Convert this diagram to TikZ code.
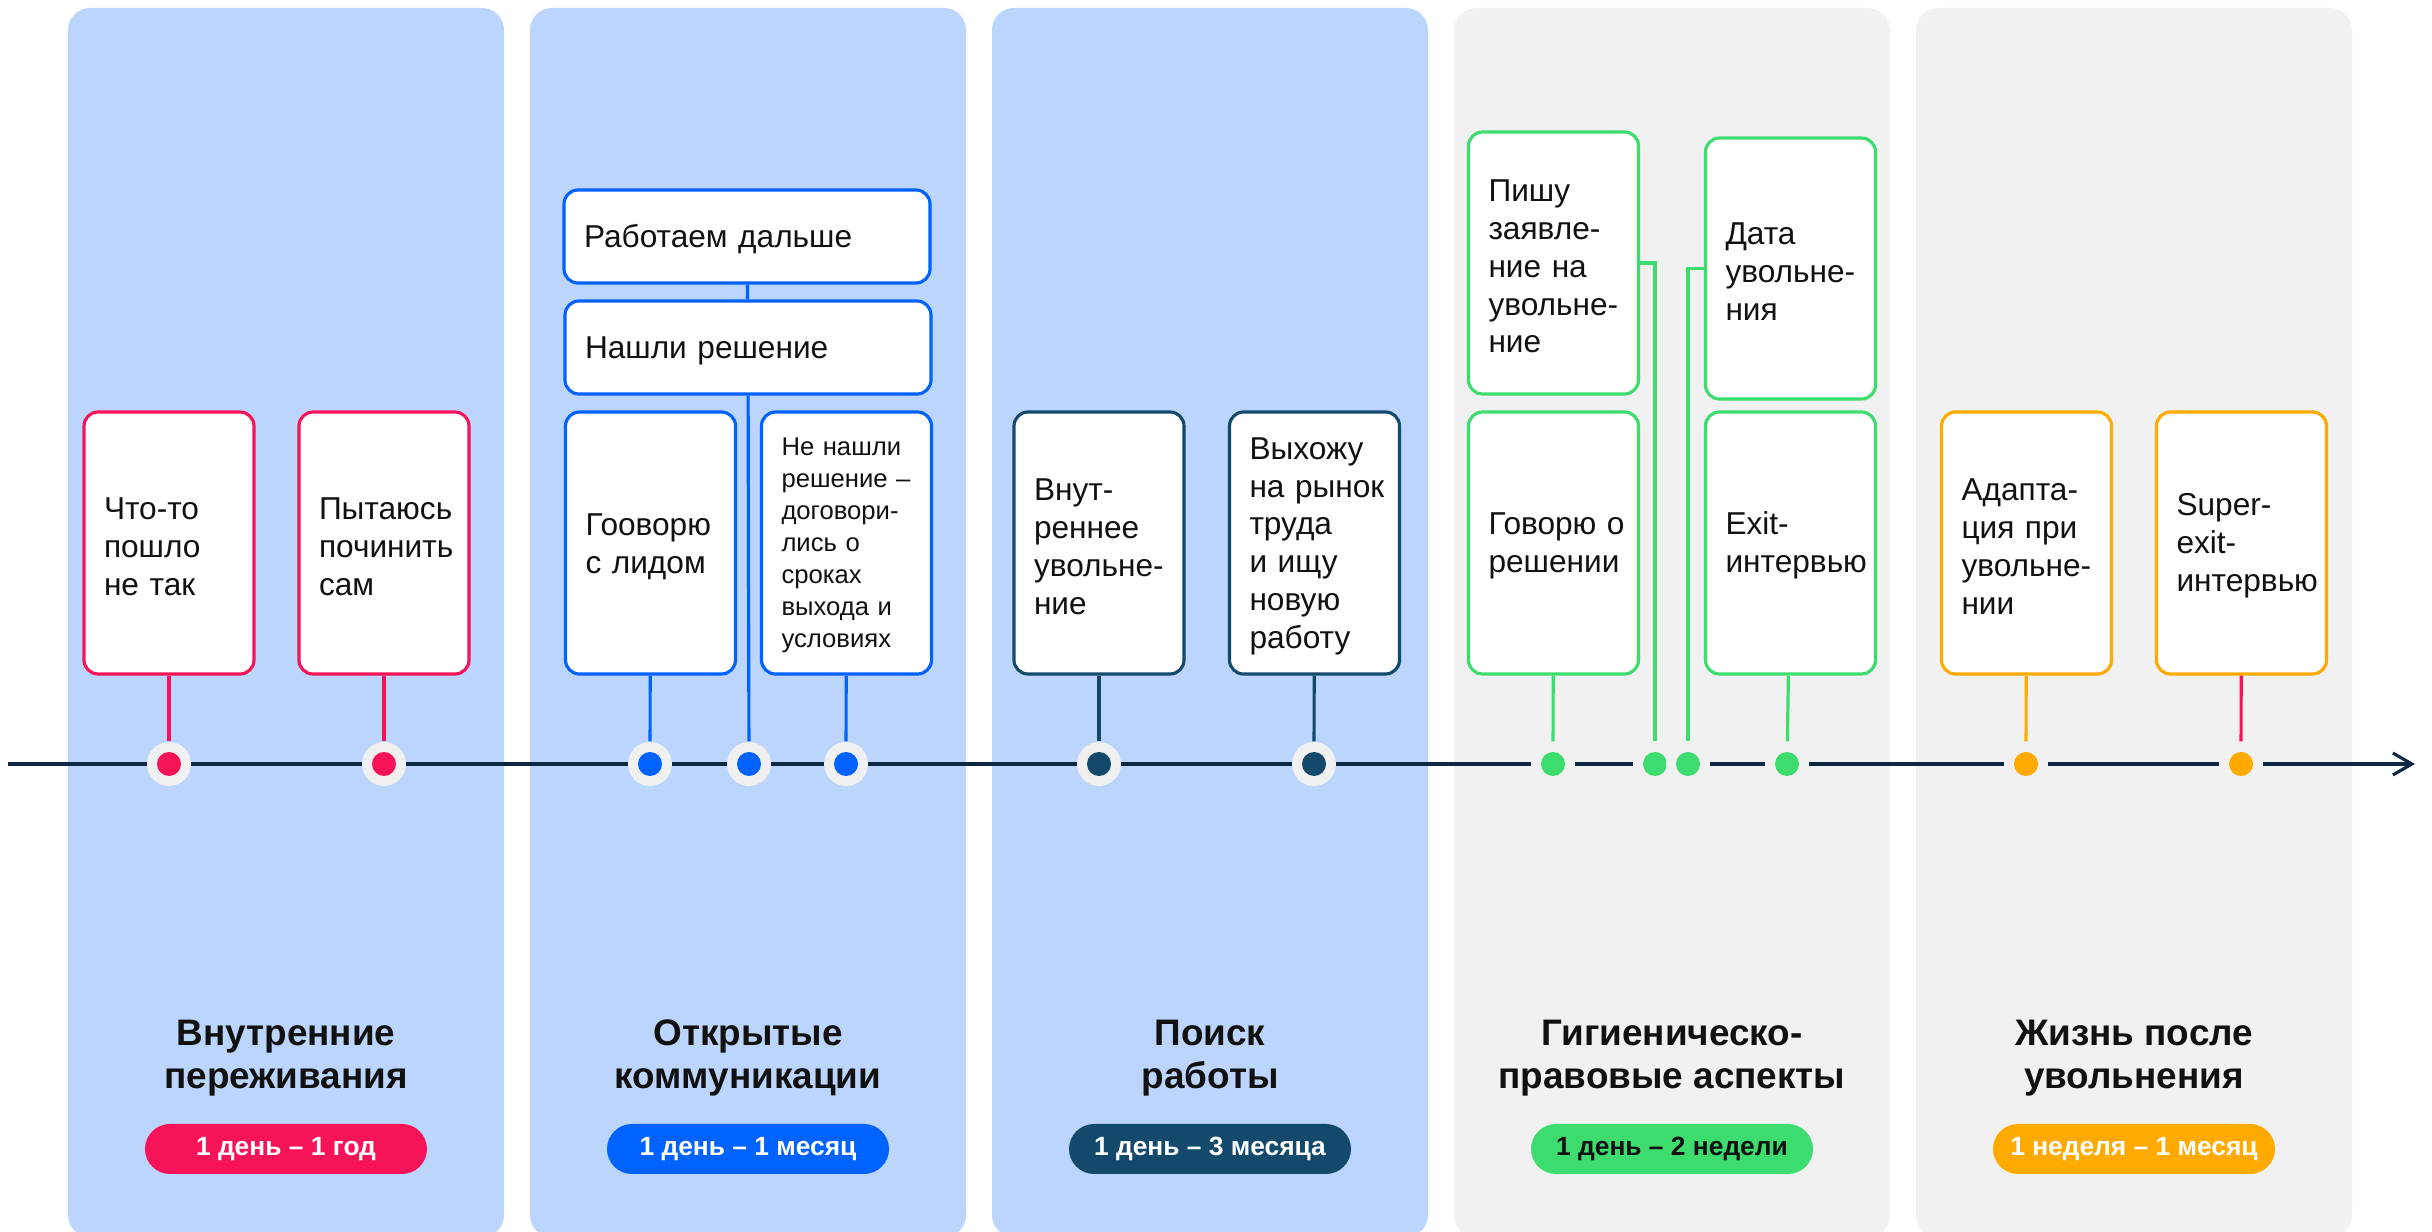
\documentclass[tikz,border=0pt]{standalone}
\usepackage{fontspec}
\setmainfont{Liberation Sans}
\usetikzlibrary{arrows.meta}
\definecolor{ink}{RGB}{17,17,17}
\definecolor{lineclr}{RGB}{13,40,66}
\definecolor{panelblue}{RGB}{187,213,252}
\definecolor{panelgrey}{RGB}{241,241,241}
\definecolor{halo}{RGB}{240,240,240}
\definecolor{feelred}{RGB}{247,19,87}
\definecolor{talkblue}{RGB}{0,98,255}
\definecolor{searchnavy}{RGB}{19,74,108}
\definecolor{lawgreen}{RGB}{61,220,110}
\definecolor{afterorange}{RGB}{255,170,0}
\newcommand\cardfont{\fontsize{9.0}{10.8}\selectfont}
\newcommand\notefont{\fontsize{7.3}{9.1}\selectfont}
\newcommand\phasefont{\fontsize{10.5}{12.2}\selectfont\bfseries}
\newcommand\pillfont{\fontsize{7.5}{8.6}\selectfont\bfseries}

\begin{document}
\begin{tikzpicture}[
    card/.style={draw=#1,fill=white,line width=0.9pt,rounded corners=0.14cm,
      text width=1.30cm,inner xsep=0.2cm,inner ysep=0pt,minimum height=2.62cm,
      align=left,font=\cardfont,text=ink,execute at begin node={\rule{0pt}{0.9em}}},
    widecard/.style={card=#1,text width=3.26cm,minimum height=0.93cm},
    conn/.style={line width=0.9pt},
    dot/.style={circle,fill=halo,minimum size=0.44cm,inner sep=0pt,
      path picture={\fill[#1] (path picture bounding box.center) circle (0.12cm);}},
    phase/.style={font=\phasefont,align=center,text=ink},
    pill/.style={fill=#1,rounded corners=0.25cm,minimum width=2.82cm,
      minimum height=0.50cm,inner sep=0pt,font=\pillfont,text=white}]
        \useasboundingbox (0,0) rectangle (24.32,12.32);
        \foreach \i/\c in {0/panelblue,1/panelblue,2/panelblue,3/panelgrey,4/panelgrey}
          \fill[\c,rounded corners=0.22cm] (0.68+4.62*\i,-0.05) rectangle (5.04+4.62*\i,12.24);
        \coordinate (tl0) at (0.08,4.68);
        \coordinate (tl1) at (24.15,4.68);
        \draw[lineclr,line width=0.9pt,-{Straight Barb[length=1.9mm,width=2.2mm]}] (tl0) -- (tl1);
        \foreach \n/\x/\c in {d1/1.69/feelred,d2/3.84/feelred,d3/6.50/talkblue,
            d4/7.49/talkblue,d5/8.46/talkblue,d6/10.99/searchnavy,d7/13.14/searchnavy,
            d8/15.53/lawgreen,d9/16.55/lawgreen,d10/16.88/lawgreen,d11/17.87/lawgreen,
            d12/20.26/afterorange,d13/22.41/afterorange}
          \node[dot=\c] (\n) at (\x,4.68) {};
        \node[card=feelred] (wrong) at (1.69,6.89) {Что-то\\пошло\\не~так};
        \node[card=feelred] (fix) at (3.84,6.89) {Пытаюсь\\починить\\сам};
        \node[card=talkblue] (lead) at (6.505,6.89) {Гооворю\\с~лидом};
        \node[card=talkblue,font=\notefont] (nosol) at (8.465,6.89)
          {Не~нашли\\решение~–\\договори-\\лись~о\\сроках\\выхода~и\\условиях};
        \node[widecard=talkblue] (sol) at (7.48,8.845) {Нашли решение};
        \node[widecard=talkblue] (goon) at (7.47,9.955) {Работаем дальше};
        \node[card=searchnavy] (quiet) at (10.99,6.89) {Внут-\\реннее\\увольне-\\ние};
        \node[card=searchnavy] (market) at (13.145,6.89)
          {Выхожу\\на~рынок\\труда\\и~ищу\\новую\\работу};
        \node[card=lawgreen] (letter) at (15.535,9.69) {Пишу\\заявле-\\ние~на\\увольне-\\ние};
        \node[card=lawgreen,minimum height=2.61cm] (date) at (17.905,9.635) {Дата\\увольне-\\ния};
        \node[card=lawgreen] (tell) at (15.535,6.89) {Говорю~о\\решении};
        \node[card=lawgreen] (exit) at (17.905,6.89) {Exit-\\интервью};
        \node[card=afterorange] (adapt) at (20.265,6.89) {Адапта-\\ция~при\\увольне-\\нии};
        \node[card=afterorange] (super) at (22.415,6.89) {Super-\\exit-\\интервью};
        \draw[conn,feelred] (wrong) -- (d1);
        \draw[conn,feelred] (fix) -- (d2);
        \draw[conn,talkblue] (lead) -- (d3);
        \draw[conn,talkblue] (goon) -- (sol);
        \draw[conn,talkblue] (sol) -- (d4);
        \draw[conn,talkblue] (nosol) -- (d5);
        \draw[conn,searchnavy] (quiet) -- (d6);
        \draw[conn,searchnavy] (market) -- (d7);
        \draw[conn,lawgreen] (tell) -- (d8);
        \draw[conn,lawgreen] (letter.east) -| (d9);
        \draw[conn,lawgreen] (date.west) -| (d10);
        \draw[conn,lawgreen] (exit) -- (d11);
        \draw[conn,afterorange] (adapt) -- (d12);
        \draw[conn,feelred] (super) -- (d13);
        \node[phase] (ph1) at (2.86,1.74) {Внутренние\\переживания};
        \node[phase] (ph2) at (7.48,1.74) {Открытые\\коммуникации};
        \node[phase] (ph3) at (12.10,1.74) {Поиск\\работы};
        \node[phase] (ph4) at (16.72,1.74) {Гигиеническо-\\правовые аспекты};
        \node[phase] (ph5) at (21.34,1.74) {Жизнь после\\увольнения};
        \node[pill=feelred] (pl1) at (2.86,0.83) {1 день – 1 год};
        \node[pill=talkblue] (pl2) at (7.48,0.83) {1 день – 1 месяц};
        \node[pill=searchnavy] (pl3) at (12.10,0.83) {1 день – 3 месяца};
        \node[pill=lawgreen,text=ink] (pl4) at (16.72,0.83) {1 день – 2 недели};
        \node[pill=afterorange] (pl5) at (21.34,0.83) {1 неделя – 1 месяц};
      \end{tikzpicture}
\end{document}
